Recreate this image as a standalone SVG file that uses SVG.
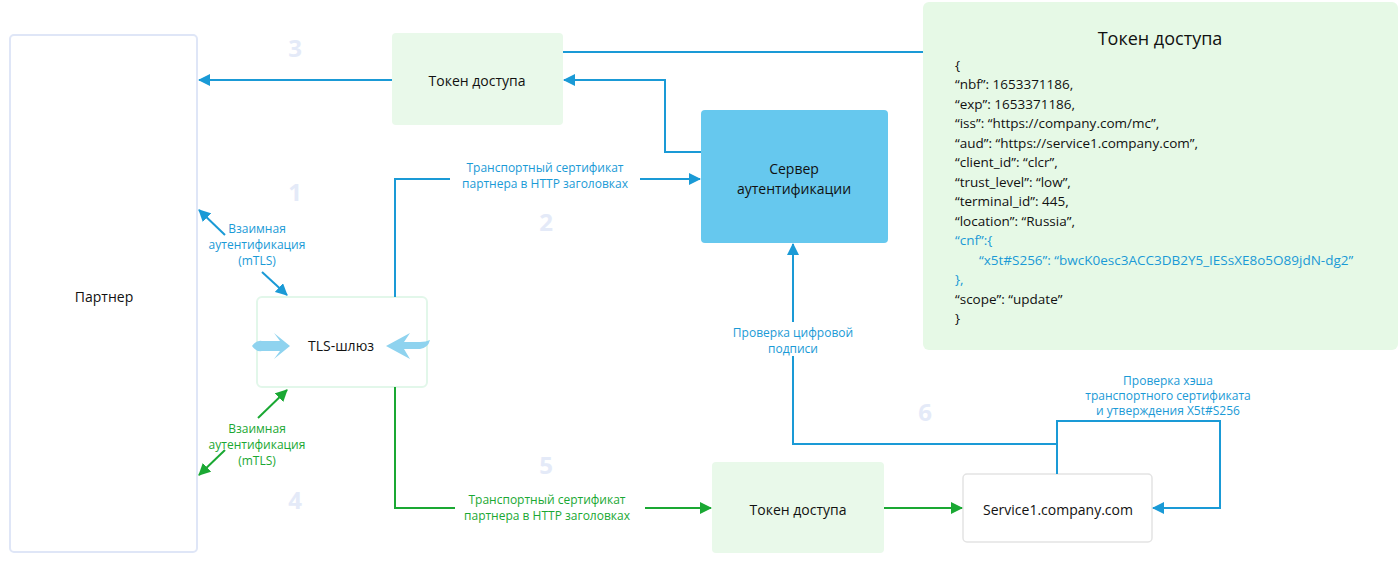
<svg xmlns="http://www.w3.org/2000/svg" width="1400" height="563" viewBox="0 0 1400 563">
<defs>
<marker id="ab" markerWidth="12" markerHeight="12" refX="11" refY="6" orient="auto" markerUnits="userSpaceOnUse"><path d="M0,0 L12,6 L0,12 z" fill="#1a9ad6"/></marker>
<marker id="ag" markerWidth="12" markerHeight="12" refX="11" refY="6" orient="auto" markerUnits="userSpaceOnUse"><path d="M0,0 L12,6 L0,12 z" fill="#1aa833"/></marker>
</defs>
<style>
text{font-family:"Open Sans","Noto Sans","Liberation Sans",sans-serif}
.m{font-size:14px;fill:#111;text-anchor:middle}
.lb{font-size:12px;fill:#1a9ad6;text-anchor:middle}
.lg{font-size:12px;fill:#1aa833;text-anchor:middle}
.n{font-size:24px;font-weight:bold;fill:#e4eaf8;text-anchor:middle}
.j{font-size:13.5px;fill:#111}
.jb{font-size:13.5px;fill:#1a9ad6}
.b{stroke:#1a9ad6;stroke-width:2;fill:none}
.g{stroke:#1aa833;stroke-width:2;fill:none}
</style>
<rect width="1400" height="563" fill="#fff"/>
<g id="partner"><rect x="10" y="35" width="187" height="517" rx="4" fill="#fff" stroke="#dfe6f7" stroke-width="2"/><text class="m" x="104" y="302">Партнер</text></g>
<g id="token-top"><rect x="392" y="33" width="171" height="92" rx="4" fill="#e9f9ea"/><text class="m" x="477" y="86">Токен доступа</text></g>
<g id="auth"><rect x="701" y="110" width="187" height="133" rx="4" fill="#66c8ee"/><text class="m" x="794" y="174">Сервер</text><text class="m" x="794" y="194">аутентификации</text></g>
<g id="tls"><rect x="257" y="297" width="170" height="90" rx="5" fill="#fff" stroke="#e2f7ea" stroke-width="2"/>
<path d="M252,346 Q256,340 262,341 L280,341 L274,333 L290,346 L274,359 L280,351 L262,351 Q256,352 252,346 z" fill="#8fd3ef"/>
<path d="M430,340 Q428,348 420,349 L404,349 L410,359 L386,346 L410,333 L404,342 L420,342 Q426,342 430,340 z" fill="#8fd3ef"/>
<text class="m" x="341" y="351">TLS-шлюз</text></g>
<g id="token-bottom"><rect x="712" y="462" width="172" height="91" rx="4" fill="#e9f9ea"/><text class="m" x="798" y="515">Токен доступа</text></g>
<g id="service"><rect x="963" y="474" width="189" height="68" rx="4" fill="#fff" stroke="#e3e3e3" stroke-width="1.5"/><text class="m" x="1058" y="515">Service1.company.com</text></g>
<g id="json"><rect x="923" y="2" width="475" height="348" rx="6" fill="#e6f9e6"/>
<text x="1160" y="45" style="font-size:18px;fill:#111;text-anchor:middle">Токен доступа</text>
<text class="j" x="955" y="70">{</text>
<text class="j" x="955" y="89">“nbf”: 1653371186,</text>
<text class="j" x="955" y="109">“exp”: 1653371186,</text>
<text class="j" x="955" y="128">“iss”: “https://company.com/mc”,</text>
<text class="j" x="955" y="148">“aud”: “https://service1.company.com”,</text>
<text class="j" x="955" y="167">“client_id”: “clcr”,</text>
<text class="j" x="955" y="187">“trust_level”: “low”,</text>
<text class="j" x="955" y="206">“terminal_id”: 445,</text>
<text class="j" x="955" y="226">“location”: “Russia”,</text>
<text class="jb" x="955" y="245">“cnf”:{</text>
<text class="jb" x="979" y="265">“x5t#S256”: “bwcK0esc3ACC3DB2Y5_IESsXE8o5O89jdN-dg2”</text>
<text class="jb" x="955" y="284">},</text>
<text class="j" x="955" y="304">“scope”: “update”</text>
<text class="j" x="955" y="323">}</text>
</g>
<g id="connectors">
<path class="b" d="M923,52 H563"/>
<path class="b" d="M392,80 H199" marker-end="url(#ab)"/>
<path class="b" d="M701,152 H665 V80 H564" marker-end="url(#ab)"/>
<path class="b" d="M395,297 V179 H700" marker-end="url(#ab)"/>
<path class="b" d="M225,235 L199,210" marker-end="url(#ab)"/>
<path class="b" d="M262,272 L287,295" marker-end="url(#ab)"/>
<path class="g" d="M258,418 L287,390" marker-end="url(#ag)"/>
<path class="g" d="M225,450 L199,475" marker-end="url(#ag)"/>
<path class="g" d="M395,387 V508 H711" marker-end="url(#ag)"/>
<path class="g" d="M884,508 H962" marker-end="url(#ag)"/>
<path class="b" d="M1057,474 V444 H793 V244" marker-end="url(#ab)"/>
<path class="b" d="M1057,444 V421 H1220 V508 H1153" marker-end="url(#ab)"/>
<rect x="722" y="322" width="142" height="34" fill="#fff"/>
<rect x="450" y="160" width="190" height="32" fill="#fff"/>
<rect x="455" y="490" width="190" height="32" fill="#fff"/>
<text class="lb" x="545" y="172">Транспортный сертификат</text><text class="lb" x="545" y="188">партнера в HTTP заголовках</text>
<text class="lg" x="547" y="504">Транспортный сертификат</text><text class="lg" x="547" y="520">партнера в HTTP заголовках</text>
<text class="lb" x="257" y="233">Взаимная</text><text class="lb" x="257" y="249">аутентификация</text><text class="lb" x="257" y="265">(mTLS)</text>
<text class="lg" x="257" y="433">Взаимная</text><text class="lg" x="257" y="449">аутентификация</text><text class="lg" x="257" y="465">(mTLS)</text>
<text class="lb" x="793" y="337">Проверка цифровой</text><text class="lb" x="793" y="353">подписи</text>
<text class="lb" x="1168" y="385">Проверка хэша</text><text class="lb" x="1168" y="400">транспортного сертификата</text><text class="lb" x="1168" y="415">и утверждения X5t#S256</text>
</g>
<g id="numbers">
<text class="n" x="295" y="57">3</text><text class="n" x="295" y="201">1</text><text class="n" x="546" y="231">2</text>
<text class="n" x="295" y="509">4</text><text class="n" x="546" y="474">5</text><text class="n" x="925" y="421">6</text>
</g>
</svg>
